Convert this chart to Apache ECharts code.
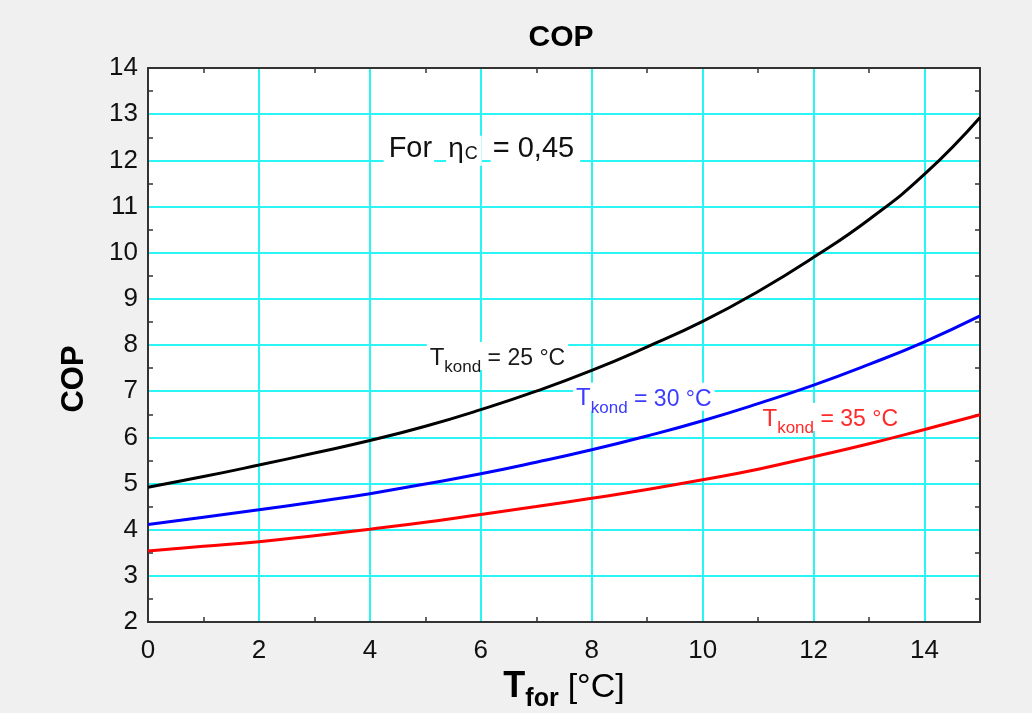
<!DOCTYPE html>
<html>
<head>
<meta charset="utf-8">
<script src="https://cdn.jsdelivr.net/npm/echarts@6/dist/echarts.min.js"></script>
<style>
html,body{margin:0;padding:0;background:#f0f0f0;}
#chart{width:1032px;height:713px;}
</style>
</head>
<body>
<div id="chart"></div>
<script>
// ---- data ----
const tFor = [0, 1, 2, 3, 4, 5, 6, 7, 8, 9, 10, 11, 12, 13, 14, 15];
const copK25 = [4.92, 5.15, 5.40, 5.66, 5.93, 6.24, 6.60, 7.00, 7.45, 7.96, 8.51, 9.16, 9.90, 10.72, 11.70, 12.93];
const copK30 = [4.11, 4.27, 4.43, 4.60, 4.78, 4.99, 5.21, 5.46, 5.73, 6.03, 6.36, 6.73, 7.13, 7.58, 8.07, 8.63];
const copK35 = [3.54, 3.64, 3.74, 3.87, 4.01, 4.16, 4.33, 4.50, 4.68, 4.87, 5.08, 5.31, 5.58, 5.86, 6.17, 6.49];
const seriesNames = ['Tkond = 25 °C', 'Tkond = 30 °C', 'Tkond = 35 °C'];
const kondTemps = ['25', '30', '35'];
const xTickLabels = ['0', '2', '4', '6', '8', '10', '12', '14'];
const yTickLabels = ['2','3','4','5','6','7','8','9','10','11','12','13','14'];
const titleText = 'COP';
const yName = 'COP';

const FONT = "'Liberation Sans', Arial, sans-serif";
const toPairs = (ys) => tFor.map((x, i) => [x, ys[i]]);

const chart = echarts.init(document.getElementById('chart'), null, {renderer: 'canvas'});

const axisLineStyle = {color: '#333333', width: 2};
const minorTickStyle = {color: '#333333', width: 1.5};
const gridLineStyle = {color: '#2af4f4', width: 2};

function kondLabel(temp, color) {
  return {
    show: true,
    position: 'inside',
    formatter: '{t|T}{s|kond}{v| = ' + temp + ' °C}',
    backgroundColor: '#ffffff',
    padding: [1, 3, 0, 3],
    rich: {
      t: {fontSize: 24, fontFamily: FONT, color: color, verticalAlign: 'bottom', lineHeight: 27},
      s: {fontSize: 17, fontFamily: FONT, color: color, verticalAlign: 'bottom', lineHeight: 20, padding: [0, 0, -6, 0]},
      v: {fontSize: 23, fontFamily: FONT, color: color, verticalAlign: 'bottom', lineHeight: 27}
    }
  };
}

const option = {
  animation: false,
  backgroundColor: '#f0f0f0',
  title: {
    text: titleText,
    left: 561,
    top: 23,
    textAlign: 'center',
    padding: 0,
    textStyle: {fontFamily: FONT, fontSize: 30, fontWeight: 'bold', color: '#000'}
  },
  graphic: [{
    type: 'text',
    x: 74,
    y: 379,
    rotation: Math.PI / 2,
    style: {
      text: yName,
      fontFamily: FONT,
      fontSize: 31,
      fontWeight: 'bold',
      fill: '#000',
      align: 'center',
      verticalAlign: 'middle'
    }
  }],
  grid: {
    left: 148, right: 52, top: 68, bottom: 91,
    containLabel: false, outerBoundsMode: 'none',
    backgroundColor: '#ffffff', show: true, borderWidth: 0
  },
  xAxis: [{
    type: 'value',
    min: 0, max: 15, interval: 2,
    position: 'bottom',
    name: '{T|T}{f|for}{sp| }{u|[°C]}',
    nameLocation: 'middle',
    nameGap: 43,
    nameTextStyle: {
      rich: {
        T: {fontFamily: FONT, fontSize: 36, fontWeight: 'bold', color: '#000', verticalAlign: 'bottom', lineHeight: 40},
        f: {fontFamily: FONT, fontSize: 25, fontWeight: 'bold', color: '#000', verticalAlign: 'bottom', lineHeight: 29, padding: [0, 0, -7, 0]},
        sp: {width: 9, fontSize: 10, lineHeight: 40, verticalAlign: 'bottom'},
        u: {fontFamily: FONT, fontSize: 34, color: '#000', verticalAlign: 'bottom', lineHeight: 40}
      }
    },
    axisLine: {show: true, onZero: false, lineStyle: axisLineStyle},
    axisTick: {show: false, inside: true},
    minorTick: {show: true, splitNumber: 2, length: 5, lineStyle: minorTickStyle},
    axisLabel: {
      margin: 16,
      fontFamily: FONT, fontSize: 26, color: '#111',
      showMaxLabel: false,
      formatter: (v) => xTickLabels.indexOf(String(v)) >= 0 ? String(v) : ''
    },
    splitLine: {show: true, lineStyle: gridLineStyle}
  }, {
    type: 'value',
    min: 0, max: 15, interval: 2,
    position: 'top',
    axisLine: {show: true, onZero: false, lineStyle: axisLineStyle},
    axisTick: {show: false, inside: true},
    minorTick: {show: true, splitNumber: 2, length: 5, lineStyle: minorTickStyle},
    axisLabel: {show: false},
    splitLine: {show: false}
  }],
  yAxis: [{
    type: 'value',
    min: 2, max: 14, interval: 1,
    position: 'left',
    axisLine: {show: true, onZero: false, lineStyle: axisLineStyle},
    axisTick: {show: false, inside: true},
    minorTick: {show: true, splitNumber: 2, length: 5, lineStyle: minorTickStyle},
    axisLabel: {
      margin: 10,
      fontFamily: FONT, fontSize: 26, color: '#111',
      formatter: (v) => yTickLabels.indexOf(String(v)) >= 0 ? String(v) : ''
    },
    splitLine: {show: true, lineStyle: gridLineStyle}
  }, {
    type: 'value',
    min: 2, max: 14, interval: 1,
    position: 'right',
    axisLine: {show: true, onZero: false, lineStyle: axisLineStyle},
    axisTick: {show: false, inside: true},
    minorTick: {show: true, splitNumber: 2, length: 5, lineStyle: minorTickStyle},
    axisLabel: {show: false},
    splitLine: {show: false}
  }],
  series: [{
    name: seriesNames[0],
    type: 'line',
    xAxisIndex: 0, yAxisIndex: 0,
    data: toPairs(copK25),
    smooth: 0.5,
    showSymbol: false,
    lineStyle: {color: '#000000', width: 3},
    itemStyle: {color: '#000000'},
    z: 5,
    markPoint: {
      symbol: 'circle', symbolSize: 1,
      itemStyle: {color: 'rgba(0,0,0,0)'},
      data: [
        {coord: [6.30, 7.76], label: kondLabel(kondTemps[0], '#1a1a1a')},
        {coord: [6.02, 12.24], label: {
          show: true,
          position: 'inside',
          formatter: '{a|For}{g| }{e|η}{c|C}{g2| }{v|= 0,45}',
          rich: {
            a: {fontFamily: FONT, fontSize: 29, color: '#111', backgroundColor: '#fff', padding: [2, 2, 2, 5], verticalAlign: 'bottom', lineHeight: 33},
            g: {width: 12, fontSize: 10, lineHeight: 33, verticalAlign: 'bottom'},
            e: {fontFamily: FONT, fontSize: 28, color: '#111', backgroundColor: '#fff', padding: [2, 0, 2, 2], verticalAlign: 'bottom', lineHeight: 33},
            c: {fontFamily: FONT, fontSize: 18, color: '#111', backgroundColor: '#fff', padding: [9, 4, 3, 1], verticalAlign: 'bottom', lineHeight: 21},
            g2: {width: 9, fontSize: 10, lineHeight: 33, verticalAlign: 'bottom'},
            v: {fontFamily: FONT, fontSize: 29, color: '#111', backgroundColor: '#fff', padding: [2, 6, 2, 2], verticalAlign: 'bottom', lineHeight: 33}
          }
        }}
      ]
    }
  }, {
    name: seriesNames[1],
    type: 'line',
    xAxisIndex: 0, yAxisIndex: 0,
    data: toPairs(copK30),
    smooth: 0.5,
    showSymbol: false,
    lineStyle: {color: '#0000ff', width: 3},
    itemStyle: {color: '#0000ff'},
    z: 5,
    markPoint: {
      symbol: 'circle', symbolSize: 1,
      itemStyle: {color: 'rgba(0,0,0,0)'},
      data: [{coord: [8.94, 6.88], label: kondLabel(kondTemps[1], '#3c3cff')}]
    }
  }, {
    name: seriesNames[2],
    type: 'line',
    xAxisIndex: 0, yAxisIndex: 0,
    data: toPairs(copK35),
    smooth: 0.5,
    showSymbol: false,
    lineStyle: {color: '#ff0000', width: 3},
    itemStyle: {color: '#ff0000'},
    z: 5,
    markPoint: {
      symbol: 'circle', symbolSize: 1,
      itemStyle: {color: 'rgba(0,0,0,0)'},
      data: [{coord: [12.30, 6.44], label: kondLabel(kondTemps[2], '#ff2a2a')}]
    }
  }]
};

chart.setOption(option);
</script>
</body>
</html>
